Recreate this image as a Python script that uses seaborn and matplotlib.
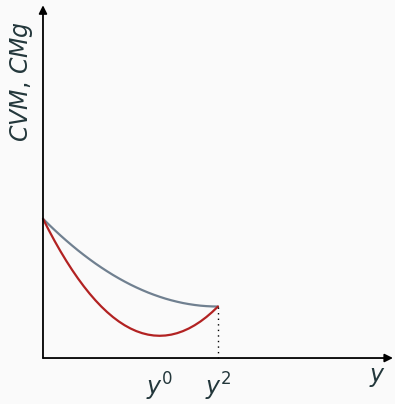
import matplotlib
matplotlib.use("Agg")
import matplotlib.pyplot as plt
import seaborn as sns
import pandas as pd

# Output levels and the two cost curves (average variable cost, marginal cost)
output = [0.0, 0.1, 0.2, 0.3, 0.4, 0.5, 0.6, 0.7, 0.8, 0.9, 1.0,
          1.1, 1.2, 1.3, 1.4, 1.5, 1.6, 1.7, 1.8, 1.9, 2.0,
          2.1, 2.2, 2.3, 2.4, 2.5, 2.6, 2.7, 2.8, 2.9, 3.0]
cvm = [2.38, 2.282, 2.187, 2.095, 2.007, 1.922, 1.84, 1.762, 1.687, 1.615, 1.547,
       1.482, 1.42, 1.362, 1.307, 1.255, 1.207, 1.162, 1.12, 1.082, 1.047,
       1.015, 0.987, 0.962, 0.94, 0.922, 0.907, 0.895, 0.887, 0.882, 0.88]
cmg = [2.38, 2.185, 2.00, 1.825, 1.66, 1.505, 1.36, 1.225, 1.10, 0.985, 0.88,
       0.785, 0.70, 0.625, 0.56, 0.505, 0.46, 0.425, 0.40, 0.385, 0.38,
       0.385, 0.40, 0.425, 0.46, 0.505, 0.56, 0.625, 0.70, 0.785, 0.88]

# Marked output levels on the horizontal axis
tick_pos = [2.0, 3.0]
tick_labels = [r"$y^0$", r"$y^2$"]

TEXT = "#23373b"
BG = "#fafafa"

sns.set_style("white")
plt.rcParams["font.family"] = ["DejaVu Sans"]
plt.rcParams["mathtext.fontset"] = "dejavusans"

fig = plt.figure(figsize=(3.95, 4.04), dpi=100, facecolor=BG)
ax = fig.add_axes([0, 0, 1, 1])
ax.set_facecolor(BG)
ax.set_xlim(-0.737, 6.035)
ax.set_ylim(-0.786, 6.12)
ax.axis("off")

df = pd.DataFrame({"y": output, "CVM": cvm, "CMg": cmg})
line_kw = dict(lw=1.6, sort=False, solid_joinstyle="round", solid_capstyle="round")
sns.lineplot(data=df, x="y", y="CVM", ax=ax, color="#708090", **line_kw)
sns.lineplot(data=df, x="y", y="CMg", ax=ax, color="#b22222", **line_kw)

# dotted drop line from the crossing point to the axis
ax.plot([output[-1], output[-1]], [cmg[-1], 0], color="black", lw=1.0,
        linestyle=(0, (1, 3)))

# axes with arrow heads
arrow = dict(arrowstyle="-|>", lw=1.3, color="black", mutation_scale=12,
             shrinkA=0, shrinkB=0)
ax.annotate("", xy=(6.0, 0), xytext=(0, 0), arrowprops=arrow)
ax.annotate("", xy=(0, 6.03), xytext=(0, 0), arrowprops=arrow)

for p, lab in zip(tick_pos, tick_labels):
    ax.text(p, -0.65, lab, ha="center", va="baseline", fontsize=17, color=TEXT)

ax.text(5.73, -0.41, r"$y$", ha="center", va="baseline", fontsize=17, color=TEXT)
ax.text(-0.37, 4.73, r"$CVM$, $CMg$", ha="center", va="center", rotation=90,
        fontsize=17, color=TEXT)

fig.savefig("out.png", dpi=100, facecolor=BG)
